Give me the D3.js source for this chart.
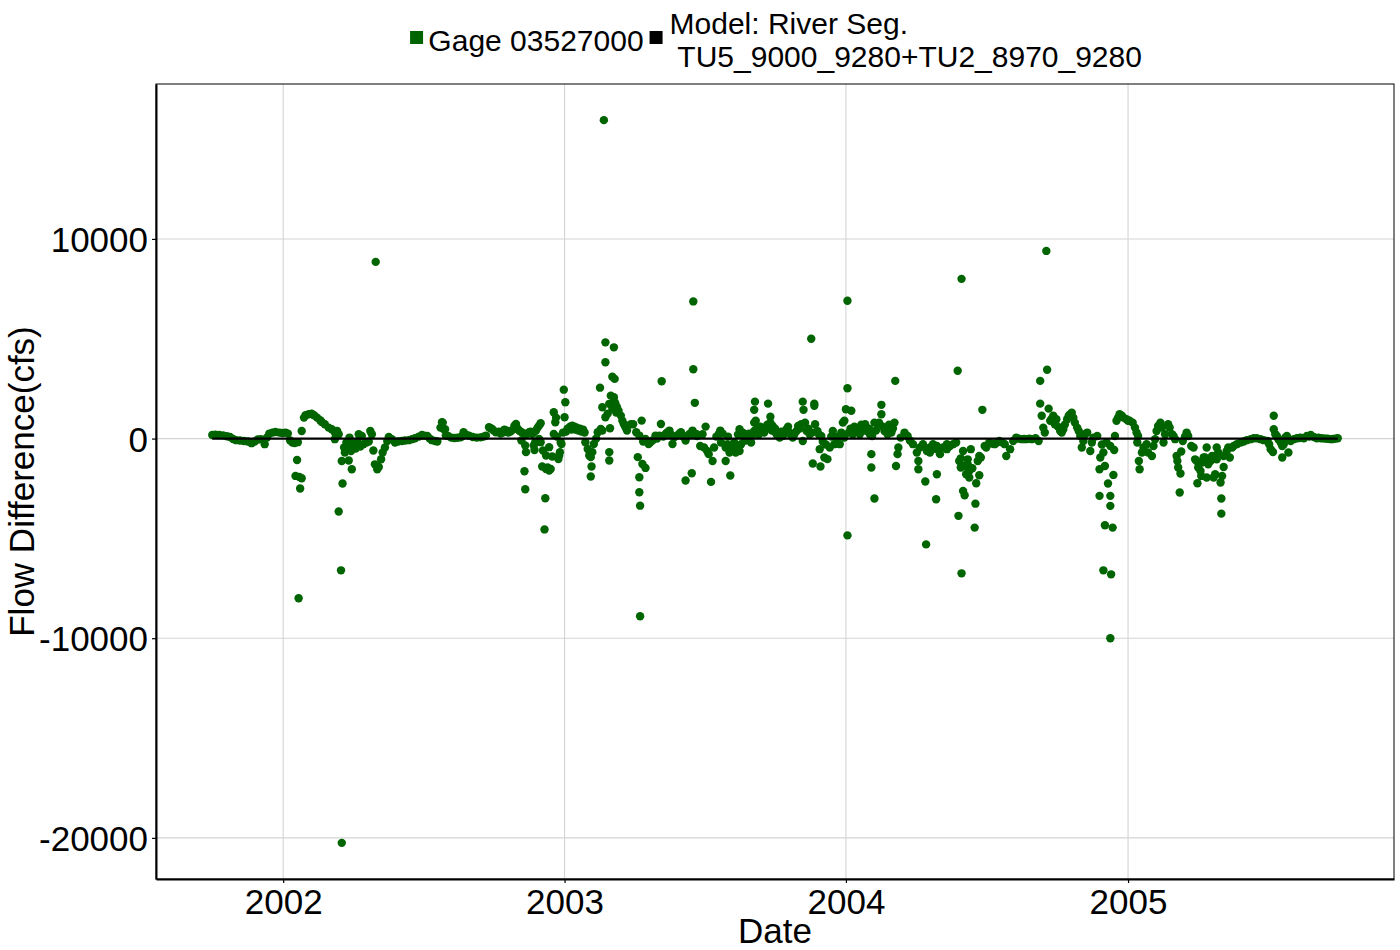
<!DOCTYPE html>
<html><head><meta charset="utf-8">
<script src="https://cdn.jsdelivr.net/npm/d3@7"></script>
<style>
body{margin:0;background:#fff}
svg{display:block}
text{font-family:"Liberation Sans",Arial,Helvetica,sans-serif;fill:#000}
</style>
</head><body>
<svg id="chart" width="1400" height="950"></svg>
<script>
// Gage 03527000 flow difference (cfs)
const gageObs = [
["2001-10-01",180],["2001-10-05",200],["2001-10-10",180],["2001-10-15",160],["2001-10-20",120],["2001-10-24",80],["2001-10-28",-20],["2001-11-01",-80],["2001-11-06",-100],["2001-11-11",-120],["2001-11-16",-150],["2001-11-21",-230],["2001-11-25",-150],["2001-11-29",-50],["2001-12-03",-30],["2001-12-08",-280],["2001-12-11",50],["2001-12-14",250],["2001-12-18",300],["2001-12-22",330],["2001-12-27",300],["2001-12-31",280],
["2002-01-04",300],["2002-01-07",250],["2002-01-10",-100],["2002-01-13",-200],["2002-01-16",-220],["2002-01-20",-180],["2002-01-19",-1070],["2002-01-17",-1870],["2002-01-25",-1990],["2002-01-22",-1920],["2002-01-23",-2500],["2002-01-21",-8000],
["2002-01-25",380],["2002-01-28",1050],["2002-01-30",1170],["2002-02-03",1220],["2002-02-07",1250],["2002-02-10",1170],["2002-02-14",1050],["2002-02-18",920],["2002-02-20",830],["2002-02-24",720],["2002-03-01",550],["2002-03-05",470],["2002-03-09",300],["2002-03-12",380],["2002-03-14",220],["2002-03-09",-30],
["2002-03-18",-1120],["2002-03-31",-1540],["2002-03-19",-2250],["2002-03-14",-3650],["2002-03-17",-6600],["2002-03-18",-20250],
["2002-03-21",-450],["2002-03-22",-700],["2002-03-24",-200],["2002-03-26",-350],["2002-03-27",-1100],["2002-03-28",50],["2002-03-30",-620],["2002-04-01",-300],["2002-04-03",-280],["2002-04-05",-500],["2002-04-07",-150],["2002-04-09",220],["2002-04-11",-400],["2002-04-13",130],["2002-04-15",-280],["2002-04-19",-200],["2002-04-22",-150],["2002-04-24",380],["2002-04-26",220],["2002-04-28",-600],
["2002-04-30",-1290],["2002-05-03",-1540],["2002-05-05",-1420],["2002-05-01",8850],["2002-05-08",-1035],["2002-05-10",-700],["2002-05-13",-450],["2002-05-16",-120],["2002-05-18",80],
["2002-05-22",-30],["2002-05-26",-200],["2002-05-30",-150],["2002-06-04",-120],["2002-06-08",-100],["2002-06-13",-80],["2002-06-17",-30],["2002-06-21",20],["2002-06-26",100],["2002-06-30",180],["2002-07-03",150],["2002-07-07",130],["2002-07-10",0],["2002-07-13",-80],["2002-07-17",-120],["2002-07-20",-150],["2002-07-24",550],["2002-07-26",820],["2002-07-27",800],["2002-07-28",480],["2002-07-30",470],["2002-07-31",150],["2002-08-03",130],
["2002-08-07",50],["2002-08-11",30],["2002-08-15",40],["2002-08-19",60],["2002-08-21",120],["2002-08-23",320],["2002-08-26",200],["2002-08-30",150],["2002-09-04",80],["2002-09-09",50],["2002-09-14",60],["2002-09-18",100],["2002-09-21",150],["2002-09-25",570],["2002-09-27",520],["2002-09-29",480],["2002-10-01",400],["2002-10-04",320],["2002-10-08",350],["2002-10-10",250],["2002-10-13",300],["2002-10-15",450],["2002-10-18",400],["2002-10-20",300],["2002-10-23",350],["2002-10-26",450],["2002-10-28",650],["2002-10-30",730],["2002-11-01",500],["2002-11-03",400],["2002-11-05",350],["2002-11-07",300],["2002-11-09",250],["2002-11-12",200],["2002-11-14",250],["2002-11-16",320],["2002-11-18",350],["2002-11-20",230],["2002-11-22",300],["2002-11-25",400],["2002-11-27",550],["2002-11-29",650],["2002-12-01",770],
["2002-11-06",-100],["2002-11-11",-350],["2002-11-12",-680],["2002-11-10",-1640],["2002-11-11",-2540],["2002-11-22",-350],["2002-11-23",-570],["2002-11-24",-180],
["2002-11-29",-20],["2002-12-01",-180],["2002-12-03",-1400],["2002-12-06",-4550],["2002-12-07",-2990],["2002-12-08",-1520],["2002-12-10",-1450],["2002-12-12",-1600],["2002-12-14",-1520],["2002-12-08",-850],["2002-12-16",-900],["2002-12-12",-430],["2002-12-04",-600],["2002-12-18",230],["2002-12-18",1320],["2002-12-20",820],["2002-12-21",1050],["2002-12-25",-850],["2002-12-26",-680],["2002-12-24",-1020],["2002-12-27",-180],["2002-12-28",-270],["2002-12-22",100],
["2002-12-31",2450],["2003-01-02",1820],["2003-01-01",1070],
["2002-12-30",300],["2003-01-03",350],["2003-01-05",500],["2003-01-08",600],["2003-01-10",450],["2003-01-11",650],["2003-01-14",600],["2003-01-15",450],["2003-01-17",550],["2003-01-19",400],["2003-01-21",500],["2003-01-23",350],["2003-01-25",450],["2003-01-27",300],["2003-01-28",-180],["2003-01-31",-520],["2003-02-02",-850],["2003-02-04",-930],["2003-02-06",-680],["2003-02-08",-270],["2003-02-05",-1400],["2003-02-04",-1900],
["2003-02-11",0],["2003-02-13",320],["2003-02-17",480],["2003-02-19",400],["2003-02-16",2550],["2003-02-19",1570],["2003-02-23",1070],["2003-02-21",15950],["2003-02-23",4820],["2003-03-06",4570],["2003-02-23",3820],["2003-03-04",3100],["2003-03-07",2990],
["2003-02-28",-680],["2003-02-28",-1100],["2003-03-01",520],["2003-02-26",1250],["2003-02-28",1740],["2003-03-02",2150],["2003-03-04",1500],["2003-03-05",1800],["2003-03-06",2070],["2003-03-07",1820],["2003-03-08",1740],["2003-03-09",1300],["2003-03-10",1570],["2003-03-12",1400],["2003-03-15",1150],["2003-03-17",900],["2003-03-19",720],["2003-03-21",570],
["2003-03-23",400],["2003-03-28",720],["2003-03-31",720],["2003-04-04",320],["2003-04-08",150],["2003-04-11",900],
["2003-04-06",-930],["2003-04-12",-1270],["2003-04-16",-1470],["2003-04-08",-1940],["2003-04-08",-2690],["2003-04-09",-3360],["2003-04-09",-8900],
["2003-04-13",-150],["2003-04-16",-20],["2003-04-20",-270],["2003-04-22",-200],["2003-04-25",-100],["2003-04-29",150],["2003-05-01",0],["2003-05-04",150],["2003-05-06",730],["2003-05-07",2870],["2003-05-09",100],["2003-05-12",230],["2003-05-14",300],["2003-05-17",400],["2003-05-19",200],["2003-05-21",-270],["2003-05-23",70],["2003-05-27",150],["2003-05-30",250],["2003-06-01",320],["2003-06-04",100],["2003-06-07",-100],["2003-06-07",-2100],["2003-06-10",150],["2003-06-15",-1740],["2003-06-12",230],["2003-06-16",400],["2003-06-19",1790],["2003-06-21",230],["2003-06-17",6870],["2003-06-17",3470],
["2003-06-16",220],["2003-06-22",130],["2003-06-29",220],["2003-07-03",600],["2003-06-26",-370],["2003-07-01",-450],["2003-07-05",-620],["2003-07-07",-780],["2003-07-12",-1120],["2003-07-10",-2170],["2003-07-14",-450],["2003-07-17",100],["2003-07-20",220],["2003-07-22",400],["2003-07-23",-200],["2003-07-25",250],
["2003-07-29",-1120],["2003-07-29",-450],["2003-07-31",-300],["2003-08-01",100],["2003-08-03",-700],["2003-08-04",-1850],["2003-08-07",-530],["2003-08-09",-200],["2003-08-11",-700],["2003-08-13",-400],["2003-08-14",200],["2003-08-16",-620],["2003-08-16",470],["2003-08-18",-280],["2003-08-20",300],
["2003-08-22",50],["2003-08-24",-100],["2003-08-26",130],["2003-08-28",250],["2003-08-31",-200],["2003-09-02",200],["2003-09-04",380],["2003-09-04",800],["2003-09-05",1850],["2003-09-04",1440],["2003-09-06",890],
["2003-09-08",500],["2003-09-10",220],["2003-09-12",600],["2003-09-15",380],["2003-09-17",300],["2003-09-19",470],["2003-09-21",700],["2003-09-22",1750],["2003-09-25",1090],["2003-09-25",800],["2003-09-27",400],["2003-09-28",630],["2003-09-30",380],["2003-10-01",500],["2003-10-03",220],
["2003-10-05",300],["2003-10-07",50],["2003-10-09",350],["2003-10-11",130],["2003-10-13",250],["2003-10-16",470],["2003-10-18",600],["2003-10-20",300],["2003-10-22",150],["2003-10-24",50],["2003-10-26",200],["2003-10-29",380],["2003-10-31",630],["2003-11-02",500],["2003-11-04",720],["2003-11-06",1850],["2003-11-07",1440],["2003-11-09",800],["2003-11-06",-120],["2003-11-11",380],["2003-11-13",500],["2003-11-17",5000],
["2003-11-15",220],["2003-11-18",300],["2003-11-21",1750],["2003-11-21",1640],["2003-11-22",720],["2003-11-25",380],["2003-11-27",200],["2003-11-30",130],["2003-11-19",-1250],["2003-11-29",-1400],["2003-11-28",-530],["2003-12-04",-950],["2003-12-08",-1030],
["2003-12-02",-150],["2003-12-06",-300],["2003-12-11",-450],["2003-12-13",100],["2003-12-15",380],["2003-12-17",-280],["2003-12-20",-200],["2003-12-22",100],["2003-12-24",-280],["2003-12-26",300],["2003-12-28",800],["2003-12-30",890],["2003-12-30",50],
["2004-01-03",2520],["2004-01-03",6900],["2004-01-01",1470],["2004-01-08",1390],["2004-01-03",-4850],["2004-01-05",300],
["2004-01-07",500],["2004-01-10",220],["2004-01-12",600],["2004-01-14",380],["2004-01-17",500],["2004-01-19",220],["2004-01-21",700],["2004-01-23",470],["2004-01-25",400],["2004-01-26",720],["2004-01-29",380],["2004-01-31",500],["2004-02-01",220],["2004-02-04",130],["2004-02-07",800],["2004-02-03",-780],["2004-02-03",-1450],["2004-02-07",-3000],
["2004-02-09",400],["2004-02-11",720],["2004-02-13",800],["2004-02-16",1690],["2004-02-16",1220],["2004-02-18",600],["2004-02-20",380],["2004-02-22",500],["2004-02-24",220],["2004-02-26",700],["2004-02-29",300],["2004-03-02",500],["2004-03-04",800],["2004-03-05",2890],
["2004-03-06",-1370],["2004-03-08",-780],["2004-03-09",-450],["2004-03-12",50],["2004-03-17",300],["2004-03-21",130],["2004-03-24",-100],
["2004-03-28",-280],["2004-04-02",-700],["2004-04-04",-1120],["2004-04-04",-1540],["2004-04-06",-450],["2004-04-10",-280],["2004-04-13",-2150],["2004-04-14",-5300],["2004-04-15",-620],["2004-04-19",-450],["2004-04-19",-700],["2004-04-23",-280],["2004-04-27",-3040],["2004-04-28",-1790],["2004-04-28",-370],["2004-04-28",-530],["2004-05-02",-780],["2004-05-06",-450],["2004-05-11",-280],["2004-05-11",-530],["2004-05-15",-370],["2004-05-19",-280],["2004-05-23",-200],
["2004-05-27",-1120],["2004-05-29",-1450],["2004-06-01",-2620],["2004-06-03",-2840],["2004-05-26",-3870],["2004-06-05",-1790],["2004-06-07",-1290],["2004-06-09",-1620],["2004-06-11",-530],["2004-06-13",-1490],["2004-06-16",-4460],["2004-06-17",-3260],["2004-06-18",-2240],["2004-06-20",-1120],["2004-06-22",-1840],["2004-06-22",-870],["2004-06-24",-950],["2004-06-26",1440],
["2004-05-29",-990],["2004-06-03",-1370],["2004-06-07",-1040],["2004-06-09",-1950],["2004-06-01",-620],["2004-05-30",-6750],["2004-05-30",8000],["2004-05-25",3400],
["2004-06-29",-370],["2004-07-01",-450],["2004-07-05",-200],["2004-07-08",-250],["2004-07-12",-280],["2004-07-15",-200],["2004-07-18",-120],["2004-07-22",-200],["2004-07-25",-280],["2004-07-27",-870],["2004-08-01",-530],["2004-08-05",-120],["2004-08-09",50],["2004-08-12",0],["2004-08-16",-30],["2004-08-19",-20],["2004-08-22",-30],["2004-08-26",0],["2004-08-29",-30],["2004-09-03",20],["2004-09-07",-120],
["2004-09-09",1750],["2004-09-11",1140],["2004-09-09",2890],["2004-09-17",9400],["2004-09-18",3450],
["2004-09-13",550],["2004-09-15",300],["2004-09-20",1500],["2004-09-22",890],["2004-09-24",1000],["2004-09-26",1140],["2004-09-28",720],["2004-09-30",970],["2004-10-02",600],["2004-10-05",380],["2004-10-07",300],["2004-10-09",470],["2004-10-11",700],["2004-10-14",970],["2004-10-16",1140],["2004-10-18",1220],["2004-10-20",1300],["2004-10-22",1050],["2004-10-24",800],["2004-10-27",550],["2004-10-29",380],["2004-10-31",130],
["2004-11-02",-450],["2004-11-04",-120],["2004-11-06",220],["2004-11-09",300],["2004-11-13",-620],["2004-11-15",-200],["2004-11-17",50],["2004-11-22",130],
["2004-11-26",-950],["2004-11-25",-1540],["2004-11-25",-2870],["2004-11-28",-300],["2004-11-30",-700],["2004-12-02",-1370],["2004-12-02",-4340],["2004-12-04",-200],["2004-12-06",-2250],["2004-12-09",-2870],["2004-12-09",-3370],["2004-12-09",-370],["2004-12-12",-4460],["2004-12-13",-1820],["2004-12-14",-570],["2004-11-30",-6600],["2004-12-10",-6800],["2004-12-09",-10000],
["2004-12-15",130],["2004-12-17",890],["2004-12-19",1050],["2004-12-21",1220],["2004-12-24",1140],["2004-12-26",1050],["2004-12-30",970],["2005-01-01",890],
["2005-01-03",890],["2005-01-07",800],["2005-01-10",550],["2005-01-12",300],["2005-01-14",130],["2005-01-13",-200],["2005-01-15",-1120],["2005-01-16",-1540],
["2005-01-19",-700],["2005-01-21",-450],["2005-01-25",-280],["2005-01-27",-700],["2005-02-01",-870],["2005-02-03",-370],["2005-02-05",-30],["2005-02-07",380],["2005-02-09",630],["2005-02-12",800],["2005-02-14",550],
["2005-02-16",-200],["2005-02-18",220],["2005-02-22",720],["2005-02-24",550],["2005-02-27",220],["2005-03-01",130],
["2005-03-03",-30],["2005-03-05",-870],["2005-03-06",-1120],["2005-03-07",-1450],["2005-03-10",-1750],["2005-03-09",-2700],["2005-03-11",-650],["2005-03-13",-120],["2005-03-16",100],["2005-03-18",300],["2005-03-20",130],
["2005-03-24",-370],["2005-03-27",-450],["2005-03-29",-1040],["2005-03-31",-1120],["2005-04-01",-2240],["2005-04-02",-1450],["2005-04-05",-1620],["2005-04-06",-1870],["2005-04-07",-1200],["2005-04-09",-950],["2005-04-11",-950],["2005-04-13",-450],["2005-04-13",-1950],["2005-04-15",-1290],["2005-04-18",-1120],["2005-04-20",-870],["2005-04-22",-1950],["2005-04-24",-1790],["2005-04-26",-450],["2005-04-26",-1040],["2005-04-28",-700],["2005-05-01",-2200],["2005-05-02",-3000],["2005-05-02",-3760],["2005-05-03",-1870],["2005-05-05",-1420],["2005-05-05",-870],["2005-05-09",-620],["2005-05-11",-450],["2005-05-13",-950],
["2005-05-16",-450],["2005-05-18",-370],["2005-05-22",-280],["2005-05-27",-200],["2005-05-31",-150],["2005-06-04",-80],["2005-06-09",-30],["2005-06-13",20],["2005-06-17",20],["2005-06-22",-30],["2005-06-26",-80],["2005-07-01",-120],
["2005-07-03",-280],["2005-07-05",-530],["2005-07-08",-670],["2005-07-09",470],["2005-07-09",1140],["2005-07-11",220],["2005-07-13",130],["2005-07-15",-30],["2005-07-18",-200],["2005-07-20",-950],["2005-07-20",-370],["2005-07-22",-280],["2005-07-24",50],["2005-07-26",130],["2005-07-28",-700],["2005-07-31",-120],
["2005-08-04",-30],["2005-08-08",20],["2005-08-11",30],["2005-08-13",50],["2005-08-17",20],["2005-08-21",130],["2005-08-24",100],["2005-08-26",180],["2005-08-30",80],["2005-09-03",20],["2005-09-05",50],["2005-09-08",20],["2005-09-11",10],["2005-09-14",0],["2005-09-17",-10],["2005-09-21",-30],["2005-09-24",-20],["2005-09-27",0],["2005-09-30",20]
];
// Model reference series (difference baseline)
const modelDates = ["2001-10-01","2005-09-30"];
const modelValues = [0, 0];
// Axis ticks
const xTickDates = ["2002-01-01","2003-01-01","2004-01-01","2005-01-01"];
const yTickValues = [-20000, -10000, 0, 10000];
// Legend
const legendLabels = ["Gage 03527000", "Model: River Seg.\n TU5_9000_9280+TU2_8970_9280"];
const legendColors = ["#006400", "#000000"];

const W = 1400, H = 950;
const margin = {left:156, right:6, top:84, bottom:71};
const iw = W - margin.left - margin.right, ih = H - margin.top - margin.bottom;
const parse = d3.timeParse("%Y-%m-%d");

const pts = gageObs.map(d => ({date: parse(d[0]), value: d[1]}));
const model = modelDates.map((d,i) => ({date: parse(d), value: modelValues[i]}));

const allDates = pts.map(d=>d.date).concat(model.map(d=>d.date));
const allVals = pts.map(d=>d.value).concat(model.map(d=>d.value));
const [dMin, dMax] = d3.extent(allDates);
const [vMin, vMax] = d3.extent(allVals);
const dPad = (dMax - dMin) * 0.05, vPad = (vMax - vMin) * 0.05;

const x = d3.scaleTime().domain([new Date(+dMin - dPad), new Date(+dMax + dPad)]).range([0, iw]);
const y = d3.scaleLinear().domain([vMin - vPad, vMax + vPad]).range([ih, 0]);

const svg = d3.select("#chart");
svg.append("rect").attr("width",W).attr("height",H).attr("fill","#fff");
const g = svg.append("g").attr("transform",`translate(${margin.left},${margin.top})`);

const xTicks = xTickDates.map(parse);
// grid
g.append("g").selectAll("line").data(xTicks).join("line")
  .attr("x1",d=>x(d)).attr("x2",d=>x(d)).attr("y1",0).attr("y2",ih)
  .attr("stroke","#d4d4d4").attr("stroke-width",1.1);
g.append("g").selectAll("line").data(yTickValues).join("line")
  .attr("x1",0).attr("x2",iw).attr("y1",d=>y(d)).attr("y2",d=>y(d))
  .attr("stroke","#d4d4d4").attr("stroke-width",1.1);

// points
g.append("g").selectAll("circle").data(pts).join("circle")
  .attr("cx",d=>x(d.date)).attr("cy",d=>y(d.value)).attr("r",4.2)
  .attr("fill","#006400");

// model line
g.append("path").datum(model)
  .attr("d", d3.line().x(d=>x(d.date)).y(d=>y(d.value)))
  .attr("fill","none").attr("stroke","#000").attr("stroke-width",2.4);

// panel border
g.append("rect").attr("width",iw).attr("height",ih).attr("fill","none").attr("stroke","#000").attr("stroke-width",1);

// axes
const xAxis = d3.axisBottom(x).tickValues(xTicks).tickFormat(d3.timeFormat("%Y")).tickSize(4).tickSizeOuter(0).tickPadding(6);
const yAxis = d3.axisLeft(y).tickValues(yTickValues).tickFormat(d => String(d)).tickSize(4).tickSizeOuter(0).tickPadding(4);
const gx = g.append("g").attr("transform",`translate(0,${ih})`).call(xAxis);
const gy = g.append("g").call(yAxis);
[gx, gy].forEach(a => {
  a.select(".domain").attr("stroke","#000").attr("stroke-width",2);
  a.selectAll(".tick line").attr("stroke","#000").attr("stroke-width",1.2);
  a.selectAll(".tick text").attr("font-size",35).attr("fill","#000")
    .attr("font-family",'"Liberation Sans",Arial,sans-serif');
});
gx.selectAll(".tick text").attr("dy","0.71em");
gy.selectAll(".tick text").attr("dy","0.36em");

// axis titles
svg.append("text").attr("x", margin.left + iw/2).attr("y", 943).attr("text-anchor","middle")
  .attr("font-size",35).text("Date");
svg.append("text").attr("transform",`translate(34,${margin.top + ih/2}) rotate(-90)`)
  .attr("text-anchor","middle").attr("font-size",35).text("Flow Difference(cfs)");

// legend
const leg = svg.append("g");
const fs = 30;
const item0 = leg.append("g");
item0.append("rect").attr("width",13).attr("height",13).attr("y",31).attr("fill",legendColors[0]);
const t0 = item0.append("text").attr("x",18.3).attr("y",50.7).attr("font-size",fs).text(legendLabels[0]);
const w0 = 18.3 + t0.node().getComputedTextLength();
const item1 = leg.append("g");
const x1 = w0 + 6;
item1.append("rect").attr("x",x1).attr("width",13).attr("height",13).attr("y",31).attr("fill",legendColors[1]);
const lines = legendLabels[1].split("\n");
const t1 = item1.append("text").attr("font-size",fs).style("white-space","pre").attr("xml:space","preserve");
lines.forEach((l,i)=>{
  t1.append("tspan").attr("x", x1 + 20).attr("y", 33.5 + i*33.2).text(l);
});
let w1 = 0;
t1.selectAll("tspan").each(function(){ w1 = Math.max(w1, this.getComputedTextLength()); });
const total = x1 + 20 + w1;
leg.attr("transform",`translate(${776 - total/2},0)`);
</script>
</body></html>
